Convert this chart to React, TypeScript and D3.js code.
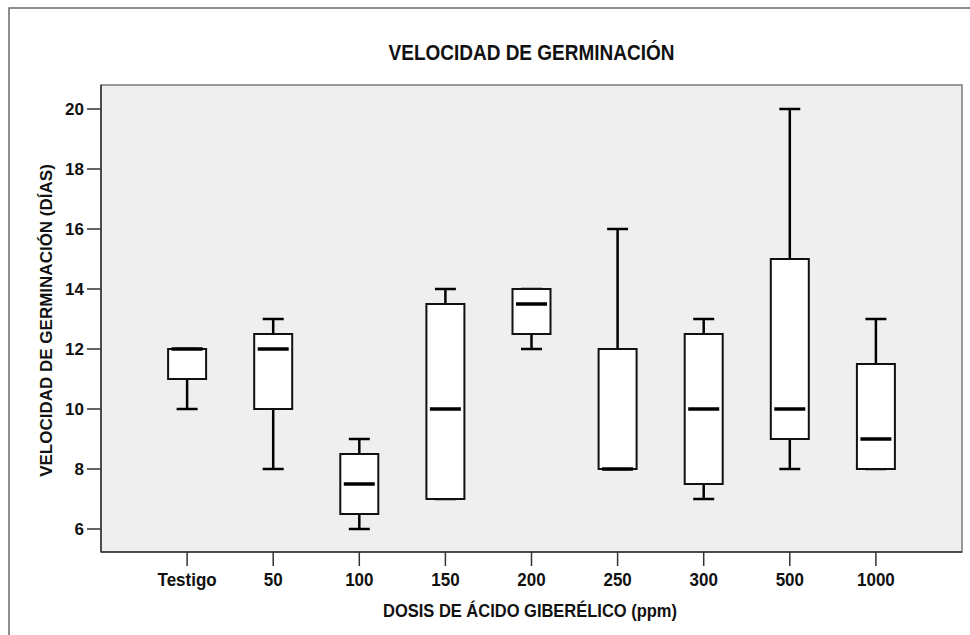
import React from "react";
import * as d3 from "d3";

const categories = ["Testigo", "50", "100", "150", "200", "250", "300", "500", "1000"];
const whiskerLow = [10, 8, 6, 7, 12, 8, 7, 8, 8];
const q1 = [11, 10, 6.5, 7, 12.5, 8, 7.5, 9, 8];
const median = [12, 12, 7.5, 10, 13.5, 8, 10, 10, 9];
const q3 = [12, 12.5, 8.5, 13.5, 14, 12, 12.5, 15, 11.5];
const whiskerHigh = [12, 13, 9, 14, 14, 16, 13, 20, 13];
const yTicks = [6, 8, 10, 12, 14, 16, 18, 20];

const title = "VELOCIDAD DE GERMINACIÓN";
const xTitle = "DOSIS DE ÁCIDO GIBERÉLICO (ppm)";
const yTitle = "VELOCIDAD DE GERMINACIÓN (DÍAS)";

export default function App() {
  const W = 970, H = 635;
  const left = 101, right = 962, top = 85, bottom = 552;
  const x = d3.scalePoint<string>().domain(categories).range([left, right]).padding(1);
  const y = d3.scaleLinear().domain([6 - 23 / 30, 20 + 24 / 30]).range([bottom, top]);
  const boxW = 38, capW = 21, medW = 31;
  const font = "'Liberation Sans', Arial, sans-serif";
  const data = categories.map((c, i) => ({
    c, lo: whiskerLow[i], q1: q1[i], med: median[i], q3: q3[i], hi: whiskerHigh[i],
  }));
  return (
    <svg width={W} height={H} style={{ position: "absolute", left: 0, top: 0, background: "#fff" }} fontFamily={font}>
      <rect x={9} y={8} width={980} height={640} fill="#fff" stroke="#6a6a6a" strokeWidth={1.5} />
      <text transform={`translate(${(left + right) / 2},60) scale(1,1.12)`} textAnchor="middle" fontWeight="bold" fontSize={19} fill="#111">{title}</text>
      <rect x={left} y={top} width={right - left} height={bottom - top} fill="#efefef" stroke="#7a7a7a" strokeWidth={1.5} />
      <line x1={left} x2={left} y1={top} y2={bottom} stroke="#333" strokeWidth={1.5} />
      <line x1={left} x2={right} y1={bottom} y2={bottom} stroke="#333" strokeWidth={1.5} />
      {yTicks.map((t) => (
        <g key={t}>
          <line x1={left - 14} x2={left} y1={y(t)} y2={y(t)} stroke="#333" strokeWidth={1.5} />
          <text x={84} y={y(t)} dy="0.36em" textAnchor="end" fontWeight="bold" fontSize={17} fill="#111">{t}</text>
        </g>
      ))}
      {categories.map((c) => (
        <g key={c}>
          <line x1={x(c)!} x2={x(c)!} y1={bottom} y2={bottom + 14} stroke="#333" strokeWidth={1.5} />
          <text transform={`translate(${x(c)!},586) scale(1,1.06)`} textAnchor="middle" fontWeight="bold" fontSize={17} fill="#111">{c}</text>
        </g>
      ))}
      <text transform="translate(530,617) scale(1,1.08)" textAnchor="middle" fontWeight="bold" fontSize={16.5} fill="#111">{xTitle}</text>
      <text transform={`translate(52,${(top + bottom) / 2 + 2}) rotate(-90)`} textAnchor="middle" fontWeight="bold" fontSize={17} fill="#111">{yTitle}</text>
      {data.map((d) => {
        const cx = x(d.c)!;
        return (
          <g key={d.c}>
            <line x1={cx} x2={cx} y1={y(d.hi)} y2={y(d.q3)} stroke="#000" strokeWidth={2.5} />
            <line x1={cx} x2={cx} y1={y(d.q1)} y2={y(d.lo)} stroke="#000" strokeWidth={2.5} />
            <line x1={cx - capW / 2} x2={cx + capW / 2} y1={y(d.hi)} y2={y(d.hi)} stroke="#000" strokeWidth={2.5} />
            <line x1={cx - capW / 2} x2={cx + capW / 2} y1={y(d.lo)} y2={y(d.lo)} stroke="#000" strokeWidth={2.5} />
            <rect x={cx - boxW / 2} y={y(d.q3)} width={boxW} height={Math.max(0, y(d.q1) - y(d.q3))} fill="#fff" stroke="#111" strokeWidth={2} />
            <line x1={cx - medW / 2} x2={cx + medW / 2} y1={y(d.med)} y2={y(d.med)} stroke="#000" strokeWidth={3.5} />
          </g>
        );
      })}
    </svg>
  );
}
